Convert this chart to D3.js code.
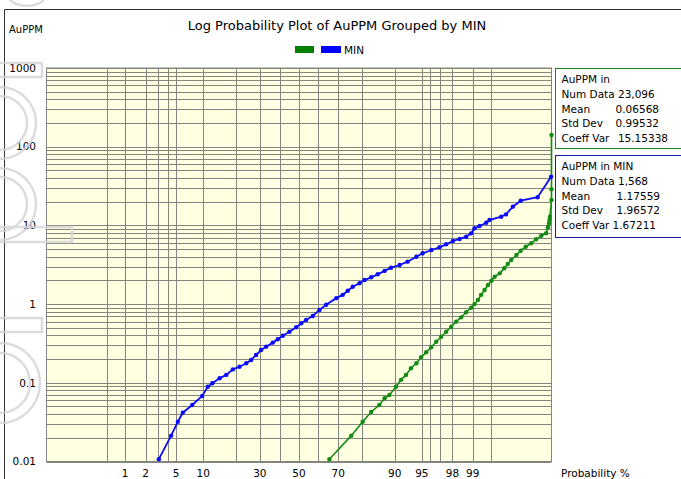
<!DOCTYPE html>
<html><head><meta charset="utf-8">
<script src="https://cdn.jsdelivr.net/npm/d3@7"></script>
<style>
html,body{margin:0;padding:0;background:#fff;}
svg text{font-family:"DejaVu Sans",sans-serif;fill:#000;}
</style></head>
<body><svg id="c" width="681" height="479"></svg>
<script>
// ---- data ----
const minProb = [3.03,4.35,5.24,5.99,7.64,9.75,11.1,12.3,14.4,16.5,18.8,21.3,24.0,26.1,28.3,30.6,33.0,36.3,38.8,41.4,44.9,48.5,51.2,53.8,57.3,60.8,64.2,69.1,72.1,74.3,76.4,79.1,81.0,83.3,85.4,87.4,89.1,91.1,92.7,94.2,95.1,96.2,97.0,97.56,98.03,98.42,98.74,98.94,99.06,99.22,99.39,99.46,99.66,99.72,99.79,99.85,99.93,99.963];
const minValues = [0.0107,0.0213,0.032,0.0417,0.0522,0.068,0.089,0.0986,0.114,0.126,0.148,0.160,0.177,0.195,0.226,0.261,0.288,0.324,0.357,0.397,0.446,0.507,0.570,0.628,0.706,0.84,0.98,1.19,1.31,1.48,1.66,1.84,2.02,2.19,2.39,2.64,2.90,3.14,3.46,4.00,4.42,4.87,5.27,5.75,6.34,6.72,7.18,7.93,9.18,9.82,10.8,11.7,12.9,13.8,17.3,20.6,22.8,41.6];
const allProb = [65.8,75.8,80.3,83.3,85.9,87.4,88.7,90.3,91.4,92.4,93.3,94.2,94.9,95.57,96.16,96.69,97.15,97.56,97.92,98.23,98.50,98.74,98.94,99.06,99.17,99.26,99.35,99.43,99.50,99.56,99.64,99.70,99.74,99.775,99.82,99.85,99.88,99.906,99.925,99.941,99.953,99.957,99.959,99.960,99.961,99.97,99.98,99.99];
const allValues = [0.0107,0.0213,0.032,0.0426,0.0522,0.0635,0.070,0.089,0.109,0.126,0.153,0.177,0.211,0.244,0.283,0.333,0.385,0.446,0.516,0.598,0.679,0.787,0.900,1.00,1.13,1.31,1.51,1.75,1.98,2.23,2.46,2.85,3.23,3.63,4.21,4.77,5.36,5.93,6.66,7.40,7.94,9.47,10.6,11.7,12.9,21.0,28.8,141];
const probTickLabels = [1,2,5,10,30,50,70,90,95,98,99];
const probGrid = [0.5,1,2,3,4,5,10,20,30,40,50,60,70,80,90,95,96,97,98,99,99.5];
const yTickLabels = ["0.01","0.1","1","10","100","1000"];
const statsAllLabels = ["AuPPM in","Num Data","Mean","Std Dev","Coeff Var"];
const statsAllValues = ["","23,096","0.06568","0.99532","15.15338"];
const statsMinLabels = ["AuPPM in MIN","Num Data","Mean","Std Dev","Coeff Var"];
const statsMinValues = ["","1,568","1.17559","1.96572","1.67211"];
const title = "Log Probability Plot of AuPPM Grouped by MIN";

// ---- helpers ----
function probit(p){ // inverse normal CDF (Acklam)
  const a=[-3.969683028665376e+01,2.209460984245205e+02,-2.759285104469687e+02,1.383577518672690e+02,-3.066479806614716e+01,2.506628277459239e+00];
  const b=[-5.447609879822406e+01,1.615858368580409e+02,-1.556989798598866e+02,6.680131188771972e+01,-1.328068155288572e+01];
  const c=[-7.784894002430293e-03,-3.223964580411365e-01,-2.400758277161838e+00,-2.549671464350931e+00,4.374664141464968e+00,2.938163982698783e+00];
  const d=[7.784695709041462e-03,3.224671290700398e-01,2.445134137142996e+00,3.754408661907416e+00];
  const pl=0.02425, ph=1-pl; let q,r;
  if(p<pl){q=Math.sqrt(-2*Math.log(p));return (((((c[0]*q+c[1])*q+c[2])*q+c[3])*q+c[4])*q+c[5])/((((d[0]*q+d[1])*q+d[2])*q+d[3])*q+1);}
  if(p<=ph){q=p-0.5;r=q*q;return (((((a[0]*r+a[1])*r+a[2])*r+a[3])*r+a[4])*r+a[5])*q/(((((b[0]*r+b[1])*r+b[2])*r+b[3])*r+b[4])*r+1);}
  q=Math.sqrt(-2*Math.log(1-p));return -(((((c[0]*q+c[1])*q+c[2])*q+c[3])*q+c[4])*q+c[5])/((((d[0]*q+d[1])*q+d[2])*q+d[3])*q+1);
}

const L=46.5, R=551.5, T=68, B=461.5;
const zScale = d3.scaleLinear().domain([-3.38,3.38]).range([L,R]).clamp(true);
const xp = p => zScale(probit(p/100));
const y = d3.scaleLog().domain([0.01,1000]).range([B,T]).clamp(true);

const svg = d3.select("#c");
svg.append("rect").attr("width",681).attr("height",479).attr("fill","#fff");

// outer frame
svg.append("path").attr("d","M4.5,480 V9.5 H690").attr("fill","none").attr("stroke","#333").attr("stroke-width",1);

// plot background
svg.append("rect").attr("x",L).attr("y",T).attr("width",R-L).attr("height",B-T).attr("fill","#ffffe1");

// horizontal grid
const hvals=[];
for(let e=-2;e<=2;e++) for(let m=1;m<=9;m++) hvals.push(m*Math.pow(10,e));
hvals.push(1000);
svg.append("g").selectAll("line").data(hvals).join("line")
  .attr("x1",L).attr("x2",R).attr("y1",d=>Math.round(y(d))+0.5).attr("y2",d=>Math.round(y(d))+0.5)
  .attr("stroke","#85857f").attr("stroke-width",1);
// vertical grid
svg.append("g").selectAll("line").data(probGrid).join("line")
  .attr("y1",T).attr("y2",B).attr("x1",d=>Math.round(xp(d))+0.5).attr("x2",d=>Math.round(xp(d))+0.5)
  .attr("stroke","#85857f").attr("stroke-width",1);
svg.append("rect").attr("x",L).attr("y",T).attr("width",R-L).attr("height",B-T).attr("fill","none").attr("stroke","#85857f");

// y tick labels
svg.append("g").selectAll("text").data(yTickLabels).join("text")
  .attr("x",36).attr("y",d=>y(+d)).attr("dy","0.36em").attr("text-anchor","end")
  .style("font-size","10.5px").text(d=>d);
// x tick labels
svg.append("g").selectAll("text").data(probTickLabels).join("text")
  .attr("x",d=>xp(d)).attr("y",476.5).attr("text-anchor","middle")
  .style("font-size","10.5px").text(d=>d);
svg.append("text").attr("x",561).attr("y",476.5).style("font-size","10.5px").text("Probability %");
svg.append("text").attr("x",9).attr("y",33).style("font-size","10px").text("AuPPM");
svg.append("text").attr("x",337).attr("y",30).attr("text-anchor","middle").style("font-size","13px").text(title);

// legend
svg.append("rect").attr("x",295).attr("y",46).attr("width",19).attr("height",7).attr("fill","#008000");
svg.append("rect").attr("x",321).attr("y",46).attr("width",20).attr("height",7).attr("fill","#0000ff");
svg.append("text").attr("x",344).attr("y",54).style("font-size","10.5px").text("MIN");

// series
const line = d3.line().x(d=>xp(d[0])).y(d=>y(d[1]));
function series(probs, vals, color, w){
  const pts = probs.map((p,i)=>[p,vals[i]]);
  const g = svg.append("g");
  g.append("path").datum(pts).attr("d",line).attr("fill","none").attr("stroke",color).attr("stroke-width",w);
  g.selectAll("circle").data(pts).join("circle").attr("cx",d=>xp(d[0])).attr("cy",d=>y(d[1])).attr("r",2.2).attr("fill",color);
}
series(allProb, allValues, "#138a13", 1.6);
series(minProb, minValues, "#0a0aff", 1.8);

// stats boxes
function statBox(y0, h, labels, values, color, valEnd){
  const g = svg.append("g");
  g.append("rect").attr("x",555.5).attr("y",y0+0.5).attr("width",140).attr("height",h).attr("fill","#fff").attr("stroke",color);
  labels.forEach((lab,i)=>{
    const yy = y0+15+i*14.8;
    if(i===1){
      g.append("text").attr("x",561.5).attr("y",yy).style("font-size","10.5px").text(lab+" "+values[i]);
    } else {
      g.append("text").attr("x",561.5).attr("y",yy).style("font-size","10.5px").text(lab);
      if(values[i]) g.append("text").attr("x",valEnd[i]).attr("y",yy).attr("text-anchor","end").style("font-size","10.5px").text(values[i]);
    }
  });
}
statBox(68, 80, statsAllLabels, statsAllValues, "#138a13", [0,0,659,659,668]);
statBox(155, 82, statsMinLabels, statsMinValues, "#1a1aa8", [0,0,660,660,656]);

// faint watermark shapes on the left margin
const wm = svg.append("g").attr("fill","none").attr("stroke","#d4d4d4").attr("stroke-width",2.5).attr("opacity",0.8);
const dShape = (cy,r) => `M0,${cy-r} A${r},${r} 0 0 1 0,${cy+r}`;
wm.append("path").attr("d","M10,0 A20,12 0 0 0 44,0");
wm.append("rect").attr("x",-3).attr("y",63).attr("width",45).attr("height",14);
[[123,36],[123,27],[204,36],[204,27],[383,40],[383,30]].forEach(a=>wm.append("path").attr("d",dShape(a[0],a[1])));
wm.append("rect").attr("x",-3).attr("y",227).attr("width",75).attr("height",15);
wm.append("rect").attr("x",-3).attr("y",318).attr("width",45).attr("height",14);
</script></body></html>
